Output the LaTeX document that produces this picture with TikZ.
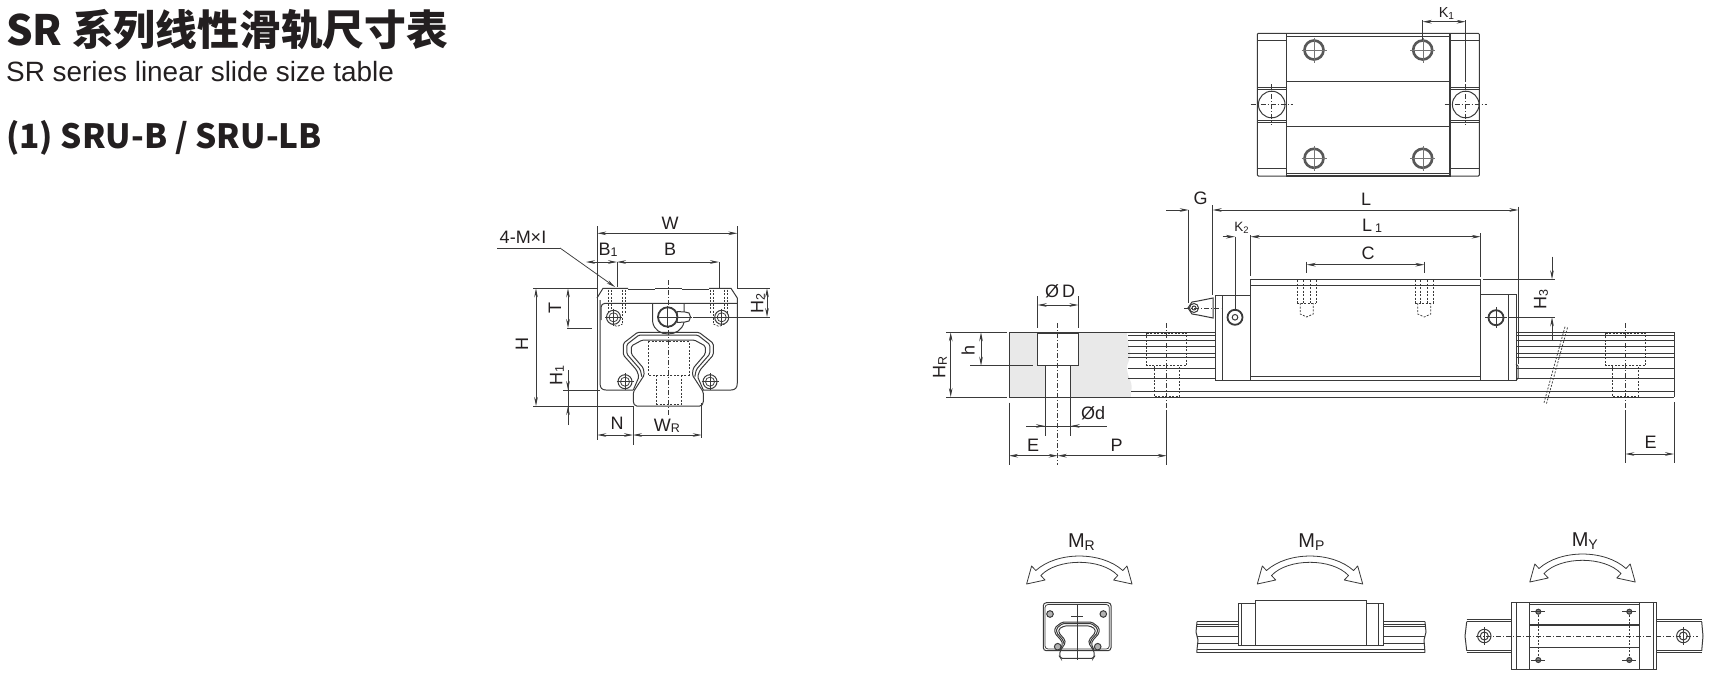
\documentclass[tikz,border=0pt]{standalone}
\usepackage{fontspec}
\usetikzlibrary{arrows.meta}
\setmainfont{Liberation Sans}
\newfontfamily\cjk{Noto Sans CJK SC}
\definecolor{inkline}{HTML}{3A3A3A}
\definecolor{inktext}{HTML}{231F20}
\definecolor{cutgray}{HTML}{E9E9E9}
\tikzset{
	dimlabel/.style={inner sep=0pt,text=inktext,font=\fontsize{18}{18}\selectfont},
	smalllabel/.style={inner sep=0pt,text=inktext,font=\fontsize{14.5}{14.5}\selectfont},
	momlabel/.style={inner sep=0pt,text=inktext,font=\fontsize{20}{20}\selectfont},
	part/.style={draw=inkline,line width=1pt},
	heavy/.style={draw=inkline,line width=1.8pt},
	thin line/.style={draw=inkline,line width=0.75pt},
	hidden/.style={draw=inkline,line width=0.75pt,dash pattern=on 2pt off 1.5pt},
	axisline/.style={draw=inkline,line width=0.65pt,dash pattern=on 5pt off 2pt on 1pt off 2pt},
	dimboth/.style={thin line,{Stealth[length=9pt,width=3.6pt]}-{Stealth[length=9pt,width=3.6pt]}},
	dimto/.style={thin line,-{Stealth[length=9pt,width=3.6pt]}},
	momentarrow/.style={draw=inkline,line width=0.8pt,fill=white,line join=round}
}
% index letter of a dimension label
\newcommand{\lowidx}[1]{\raisebox{-1.5pt}{\fontsize{12.5}{12.5}\selectfont #1}}
% rail and carriage profile, origin at the middle of the rail foot
\newcommand{\railprofile}{
	\draw[part,rounded corners=1.5pt](-33,0)--(33,0)--(35,-3)--(35,-14)--(24,-31)--(25,-38)
	--(37,-52)--(37,-60)--(26,-66)--(-26,-66)--(-37,-60)--(-37,-52)--(-25,-38)--(-24,-31)
	--(-35,-14)--(-35,-3)--cycle;
	\draw[part,rounded corners=1.5pt](-26.5,-29.3)--(-28,-36.5)--(-41.5,-52)--(-41.5,-61.5)
	--(-29.3,-71)--(29.3,-71)--(41.5,-61.5)--(41.5,-52)--(28,-36.5)--(26.5,-29.3);
	\draw[part,rounded corners=1.5pt](-35,-16)--(-29.3,-29.3)--(-31.7,-36)--(-45,-51)
	--(-45,-62.7)--(-30.7,-73.7)--(30.7,-73.7)--(45,-62.7)--(45,-51)--(31.7,-36)
	--(29.3,-29.3)--(35,-16);
}
% hollow double arrow of the moment views
\newcommand{\momentsymbol}[2]{
	\begin{scope}[shift={(#1,#2)}]
	\draw[momentarrow](-52.7,28)--(-47.7,10)--(-43.5,14.5) .. controls (-22,-4.8) and (22,-4.8) ..
	(43.5,14.5)--(47.7,10)--(52.7,28)--(34.3,24)--(38.5,19.5) .. controls (22,1.9) and (-22,1.9) ..
	(-38.5,19.5)--(-34.3,24)--cycle;
	\end{scope}
}
% screw head with a cross
\newcommand{\crossscrew}[3]{
	\draw[part,fill=white](#1,#2) circle [radius=#3];
	\draw[thin line](#1,#2) circle [radius=#3*0.65];
	\draw[thin line](#1-#3-1.5,#2)--(#1+#3+1.5,#2);
	\draw[thin line](#1,#2-#3-1.5)--(#1,#2+#3+1.5);
}
\begin{document}
\begin{tikzpicture}[x=1pt,y=-1pt]
	\useasboundingbox (0,0) rectangle (1709,678);
	
	\node[anchor=base west,inner sep=0pt,text=inktext,font=\cjk\bfseries\fontsize{41.8}{41.8}\selectfont] (title) at (6,45.5) {SR 系列线性滑轨尺寸表};
	\node[anchor=base west,inner sep=0pt,text=inktext,font=\fontsize{27.9}{27.9}\selectfont] (subtitle) at (6,81.7) {SR series linear slide size table};
	\node[anchor=base west,inner sep=0pt,text=inktext,font=\cjk\bfseries\fontsize{33.4}{33.4}\selectfont] (model) at (6,148) {(1) SRU-B / SRU-LB};
	
	% top view
	\draw[part,rounded corners=1pt](1257.3,33.3) rectangle (1479.3,176);
	\draw[heavy,line width=1.1pt](1286.7,33.3) rectangle (1450,176);
	\draw[thin line](1286.7,36) -- (1450,36);
	\draw[thin line](1286.7,173.5) -- (1450,173.5);
	\draw[part](1257.3,40.7)--(1286.7,40.7);
	\draw[part](1450,40.7)--(1479.3,40.7);
	\draw[part](1257.3,168.3)--(1286.7,168.3);
	\draw[part](1450,168.3)--(1479.3,168.3);
	\draw[heavy,line width=1.4pt](1286.7,81.7)--(1450,81.7);
	\draw[heavy,line width=1.4pt](1286.7,126.7)--(1450,126.7);
	\foreach \ya in {87,89.5,120,122.5}{
		\draw[part](1257.3,\ya)--(1286.7,\ya);
		\draw[part](1450,\ya)--(1479.3,\ya);
	}
	\foreach \xa in {1271.7,1465.7}{
		\draw[part,fill=white](\xa,104.5) circle [radius=13.3];
		\draw[axisline](\xa-21,104.5)--(\xa+21,104.5);
		\draw[axisline](\xa,84)--(\xa,125);
	}
	\foreach \xa in {1314,1422.7}
	\foreach \ya in {50,158.3}{
		\draw[heavy,line width=2.6pt,draw=inkline!85](\xa,\ya) circle [radius=9.5];
		\draw[thin line,line width=0.4pt,draw=inkline!70](\xa-12.5,\ya)--(\xa+12.5,\ya);
		\draw[thin line,line width=0.4pt,draw=inkline!70](\xa,\ya-12.5)--(\xa,\ya+12.5);
	}
	\draw[thin line](1422.7,20)--(1422.7,40);
	\draw[thin line](1465.7,20)--(1465.7,81.7);
	\draw[dimboth](1422.7,21.7)--(1465.7,21.7);
	\node[smalllabel] (lblKa) at (1446.7,13.5) {K\textsubscript{1}};
	
	% front view
	\draw[axisline](668.3,280)--(668.3,415);
	\draw[part](597,298)--(603,288.3)--(628,288.3);
	\draw[part](628,289.3)--(655,289.3);
	\draw[part](655,288.3)--(682,288.3);
	\draw[part](682,289.3)--(709,289.3);
	\draw[part](709,288.3)--(731,288.3)--(737.3,298)--(737.3,383)
	.. controls (737.3,388) and (735,390) .. (731,390)--(703,390);
	\draw[part](600,300)--(600,383) .. controls (600,388) and (602,390) .. (606,390)--(633,390);
	\draw[part](597,298)--(597,326);
	\draw[part,rounded corners=4pt](601,320)--(601,303.3)--(737,303.3);
	\begin{scope}[shift={(668.3,406)}]
	\railprofile
	\end{scope}
	\draw[hidden](648,341.7)--(689,341.7)--(689,375)--(648,375)--cycle;
	\draw[hidden](656,375)--(656,404);
	\draw[hidden](681,375)--(681,404);
	\draw[hidden](656,404)--(681,404);
	\foreach \xa in {617,719}{
		\draw[hidden](\xa-8.7,289.5)--(\xa-8.7,313);
		\draw[hidden](\xa+8.7,289.5)--(\xa+8.7,313);
		\draw[hidden](\xa-5.5,289.5)--(\xa-5.5,324);
		\draw[hidden](\xa+5.5,289.5)--(\xa+5.5,324);
		\draw[hidden](\xa-5.5,324)--(\xa,326.5)--(\xa+5.5,324);
	}
	\crossscrew{613.5}{317.3}{7}
	\crossscrew{721.7}{317.3}{7}
	\crossscrew{625}{381.7}{7}
	\crossscrew{710}{381.7}{7}
	\draw[part](652.7,303.3)--(652.7,322) .. controls (655,338) and (681,338) .. (684,322)--(684,303.3);
	\draw[part,fill=white](677,311.5)--(685,312)--(689,313)--(690.5,317)--(689,321)--(685,322)--(677,322.5)--cycle;
	\draw[heavy,fill=white](667.7,317) circle [radius=9.7];
	\draw[thin line](657,317)--(692,317);
	\draw[thin line](667.7,306)--(667.7,328);
	\draw[thin line](693,317)--(770,317);
	
	% dimensions of the front view
	\draw[thin line](597.3,226)--(597.3,440);
	\draw[thin line](737.3,226)--(737.3,288);
	\draw[dimboth](597.3,233.3)--(737.3,233.3);
	\node[dimlabel] (lblW) at (670,223) {W};
	\draw[thin line](497,248)--(560,248);
	\draw[dimto](560,248)--(615,287);
	\node[dimlabel] (lblMI) at (523,237) {4-M×I};
	\draw[thin line](617,262)--(617,287);
	\draw[thin line](719,262)--(719,288);
	\draw[dimboth](586,262)--(617,262);
	\draw[dimboth](617,262)--(719,262);
	\node[dimlabel] (lblBa) at (608,250) {B\lowidx{1}};
	\node[dimlabel] (lblB) at (670,249) {B};
	\draw[thin line](533,288.3)--(597,288.3);
	\draw[thin line](533,406)--(633,406);
	\draw[dimboth](536,288.3)--(536,406);
	\node[dimlabel,rotate=90] (lblH) at (522,344) {H};
	\draw[dimboth](568,288.3)--(568,328);
	\draw[thin line](567,328)--(592,328);
	\node[dimlabel,rotate=90] (lblT) at (555,308) {T};
	\draw[thin line](563,390)--(600,390);
	\draw[thin line](568,370)--(568,425);
	\draw[dimto](568,370)--(568,390);
	\draw[dimto](568,425)--(568,406);
	\node[dimlabel,rotate=90] (lblHa) at (557,376) {H\lowidx{1}};
	\draw[thin line](737,288.3)--(770,288.3);
	\draw[dimboth](767,288.3)--(767,317);
	\node[dimlabel,rotate=90] (lblHb) at (758,304) {H\lowidx{2}};
	\draw[thin line](633,406)--(633,445);
	\draw[thin line](701.7,403)--(701.7,438);
	\draw[dimboth](597.3,435)--(633,435);
	\draw[dimboth](633,435)--(701.7,435);
	\node[dimlabel] (lblN) at (617,423) {N};
	\node[dimlabel] (lblWr) at (667,426) {W\lowidx{R}};
	
	% side view
	\fill[cutgray](1009,332.3)--(1126.7,332.3) .. controls (1128,345) and (1131,350) .. (1130,357)
	.. controls (1129,362) and (1126,365) .. (1127,370) .. controls (1128,377) and (1132,382) .. (1131.7,387)
	--(1130.7,397)--(1009,397)--cycle;
	\foreach \ya in {335.7,340.7,346.7,353.3,357.7,368.3,378.7}{
		\draw[part](1128,\ya)--(1215,\ya);
		\draw[part](1516,\ya)--(1674,\ya);
	}
	\draw[heavy,line width=1.4pt](1128,340.7)--(1215,340.7);
	\draw[heavy,line width=1.4pt](1516,340.7)--(1674,340.7);
	\draw[part](1009,332.3)--(1215,332.3);
	\draw[part](1516,332.3)--(1674,332.3);
	\draw[part](1131,391.7)--(1674,391.7);
	\draw[part](1009,397)--(1674,397);
	\draw[part](1009,332.3)--(1009,397);
	\draw[part](1674,332.3)--(1674,397);
	\draw[part,fill=white](1037.7,332.3) rectangle (1078.3,365.7);
	\draw[part,fill=white](1045,365.7) rectangle (1070.7,397);
	\draw[part,line width=1.4pt](1037.7,333)--(1078.3,333);
	\draw[axisline](1057.7,323)--(1057.7,465);
	\foreach \xa/\xb/\xc/\xd/\xe in {1146.7/1186.7/1154/1179.3/1166.7,1605.7/1645.7/1612.7/1638.3/1625.3}{
		\draw[hidden](\xa,333)--(\xb,333)--(\xb,365.7)--(\xa,365.7)--cycle;
		\draw[hidden](\xc,365.7)--(\xc,396.5)--(\xd,396.5)--(\xd,365.7);
		\draw[axisline](\xe,323)--(\xe,410);
	}
	% carriage
	\draw[part,fill=white](1215,295) rectangle (1250.7,380.7);
	\draw[part](1222.7,295)--(1222.7,380.7);
	\draw[part,fill=white](1480.7,294.5) rectangle (1516,380.7);
	\draw[part](1508.3,294.5)--(1508.3,380.7);
	\draw[part,fill=white](1250.7,279.3) rectangle (1480.7,380.7);
	\draw[part](1250.7,285)--(1480.7,285);
	\draw[part](1250.7,376)--(1480.7,376);
	\draw[part](1516,364)--(1518,366)--(1518,378)--(1516,380.7);
	\foreach \xa in {1306.7,1424.3}{
		\draw[hidden](\xa-9.3,280)--(\xa-9.3,303);
		\draw[hidden](\xa+9.3,280)--(\xa+9.3,303);
		\draw[hidden](\xa-3.5,280)--(\xa-3.5,303);
		\draw[hidden](\xa+3.5,280)--(\xa+3.5,303);
		\draw[hidden](\xa-6.5,303)--(\xa-6.5,314)--(\xa,317)--(\xa+6.5,314)--(\xa+6.5,303);
		\draw[hidden](\xa-9.3,303)--(\xa+9.3,303);
	}
	\draw[heavy](1235,317.3) circle [radius=7.5];
	\draw[part](1235,317.3) circle [radius=2.8];
	\draw[heavy](1496,317.7) circle [radius=7.5];
	\draw[thin line](1485,317.7)--(1507,317.7);
	\draw[thin line](1496,307)--(1496,328);
	% grease nipple
	\draw[part,fill=white](1192,302)--(1198,301)--(1213,298)--(1213,318)--(1198,315)--(1192,314)--(1188,308)--cycle;
	\draw[part](1194,308) circle [radius=4.5];
	\draw[part](1194,308) circle [radius=2];
	\draw[axisline](1184,308)--(1221,308);
	% break lines
	\draw[hidden](1565,326.7)--(1544,402.7);
	\draw[hidden](1567.5,327.5)--(1546.5,403.5);
	
	% dimensions of the side view
	\draw[thin line](1037.7,296)--(1037.7,328);
	\draw[thin line](1078.3,296)--(1078.3,328);
	\draw[dimboth](1037.7,305)--(1078.3,305);
	\node[dimlabel] (lblDb) at (1060,291.7) {Ø\,D};
	\draw[thin line](946,332.3)--(1007,332.3);
	\draw[thin line](946,397)--(1007,397);
	\draw[dimboth](950.7,332.3)--(950.7,397);
	\node[dimlabel,rotate=90] (lblHr) at (940,367) {H\lowidx{R}};
	\draw[thin line](970,365.7)--(1033,365.7);
	\draw[dimboth](981,332.3)--(981,365.7);
	\node[dimlabel,rotate=90] (lblh) at (968,350) {h};
	\draw[thin line](1045,398)--(1045,436);
	\draw[thin line](1070.7,398)--(1070.7,436);
	\draw[thin line](1026,426)--(1106.7,426);
	\draw[dimto](1026,426)--(1045,426);
	\draw[dimto](1090,426)--(1070.7,426);
	\node[dimlabel] (lbldd) at (1093,413) {Ød};
	\draw[thin line](1009,402.5)--(1009,465);
	\draw[thin line](1166.7,410)--(1166.7,465);
	\draw[dimboth](1009,455.7)--(1057.7,455.7);
	\draw[dimboth](1057.7,455.7)--(1166.7,455.7);
	\node[dimlabel] (lblE) at (1033,445) {E};
	\node[dimlabel] (lblP) at (1116.7,445) {P};
	\draw[thin line](1188.7,210)--(1188.7,303);
	\draw[thin line](1212.7,205)--(1212.7,295);
	\draw[thin line](1518.3,206.7)--(1518.3,364);
	\draw[dimto](1166,210)--(1188.7,210);
	\draw[dimboth](1212.7,210)--(1518.3,210);
	\node[dimlabel] (lblG) at (1200.7,198) {G};
	\node[dimlabel] (lblL) at (1366,199) {L};
	\draw[thin line](1250.7,235)--(1250.7,276);
	\draw[thin line](1235,236.7)--(1235,310);
	\draw[thin line](1480.7,233)--(1480.7,277);
	\draw[dimto](1222.7,236.7)--(1235,236.7);
	\draw[dimboth](1250.7,236.7)--(1480.7,236.7);
	\node[font=\fontsize{13.5}{13.5}\selectfont,inner sep=0pt,text=inktext] (lblKb) at (1241.7,227.7) {K\textsubscript{2}};
	\node[dimlabel] (lblLa) at (1372,226) {L\,\lowidx{1}};
	\draw[thin line](1306.7,261.7)--(1306.7,273);
	\draw[thin line](1424.3,261.7)--(1424.3,273);
	\draw[dimboth](1306.7,264.7)--(1424.3,264.7);
	\node[dimlabel] (lblC) at (1368,253.3) {C};
	\draw[thin line](1483,279.3)--(1555,279.3);
	\draw[thin line](1508,317.3)--(1555,317.3);
	\draw[dimto](1552,256.7)--(1552,279.3);
	\draw[dimto](1552,340)--(1552,317.3);
	\node[dimlabel,rotate=90] (lblHc) at (1541,300) {H\lowidx{3}};
	\draw[thin line](1625.3,410)--(1625.3,463);
	\draw[thin line](1674,402)--(1674,463);
	\draw[dimboth](1625.3,454)--(1674,454);
	\node[dimlabel] (lblEb) at (1650.7,442.3) {E};
	
	% moment views
	\node[momlabel] (lblMr) at (1081.7,541.7) {M\textsubscript{R}};
	\node[momlabel] (lblMp) at (1311.7,541.7) {M\textsubscript{P}};
	\node[momlabel] (lblMy) at (1585,540.7) {M\textsubscript{Y}};
	\momentsymbol{1079.3}{556}
	\momentsymbol{1310}{556}
	\momentsymbol{1582.5}{554}
	
	% roll
	\draw[part,rounded corners=3pt](1043.3,602.7) rectangle (1111,650.7);
	\draw[thin line,rounded corners=3pt](1045,604.5) rectangle (1109.3,649);
	\begin{scope}[shift={(1077,658.3)},scale=0.49]
	\railprofile
	\end{scope}
	\draw[thin line](1077,604)--(1077,660);
	\draw[part](1071,616.5)--(1083,616.5);
	\foreach \xa/\ya in {1050/614,1103.3/614,1057.7/646.7,1097.7/646.7}{
		\draw[part,fill=gray!60](\xa,\ya) circle [radius=3.3];
	}
	
	% pitch
	\foreach \ya in {621.7,624,626.7,636.7,643.3}{
		\draw[part](1196.7,\ya)--(1238.3,\ya);
		\draw[part](1383.3,\ya)--(1425,\ya);
	}
	\draw[part](1196.7,649.3)--(1425,649.3);
	\draw[part](1196.7,652.7)--(1425,652.7);
	\draw[part](1197,621.7)--(1196,632)--(1198,640)--(1196.7,652.7);
	\draw[part](1425,621.7)--(1426,632)--(1424,640)--(1425,652.7);
	\draw[part,fill=white](1238.3,603) rectangle (1255.7,645);
	\draw[part](1241.7,603)--(1241.7,645);
	\draw[part,fill=white](1366,603) rectangle (1383.3,645);
	\draw[part](1378.3,603)--(1378.3,645);
	\draw[part,fill=white](1255.7,600.7) rectangle (1366,645);
	
	% yaw
	\foreach \ya in {619.3,621.7,650.7,652.7}{
		\draw[part](1466.7,\ya)--(1511.7,\ya);
		\draw[part](1656.7,\ya)--(1701.7,\ya);
	}
	\draw[part](1466.7,621.7)--(1465,636)--(1466.7,650.7);
	\draw[part](1701.7,621.7)--(1703,636)--(1701.7,650.7);
	\draw[part,fill=white](1511.7,602.7) rectangle (1656.7,669.3);
	\draw[part](1516.7,602.7)--(1516.7,669.3);
	\draw[part](1653.3,602.7)--(1653.3,669.3);
	\draw[part](1529,602.7)--(1529,669.3);
	\draw[part](1639,602.7)--(1639,669.3);
	\draw[thin line](1529,604.5)--(1639,604.5);
	\draw[heavy,line width=1.2pt](1529,625)--(1639,625);
	\draw[heavy,line width=1.2pt](1529,647.3)--(1639,647.3);
	\draw[axisline](1476,636)--(1698,636);
	\foreach \xa in {1484.3,1683.3}{
		\draw[part](\xa,636) circle [radius=6.7];
		\draw[part](\xa,636) circle [radius=4];
		\draw[thin line](\xa,627)--(\xa,645);
	}
	\foreach \xa in {1538.3,1629.3}{
		\draw[hidden](\xa,611.7)--(\xa,660);
		\foreach \ya in {611.7,660}{
			\draw[part,fill=gray](\xa,\ya) circle [radius=2.5];
			\draw[thin line](\xa-7,\ya)--(\xa+7,\ya);
		}
	}
\end{tikzpicture}
\end{document}
